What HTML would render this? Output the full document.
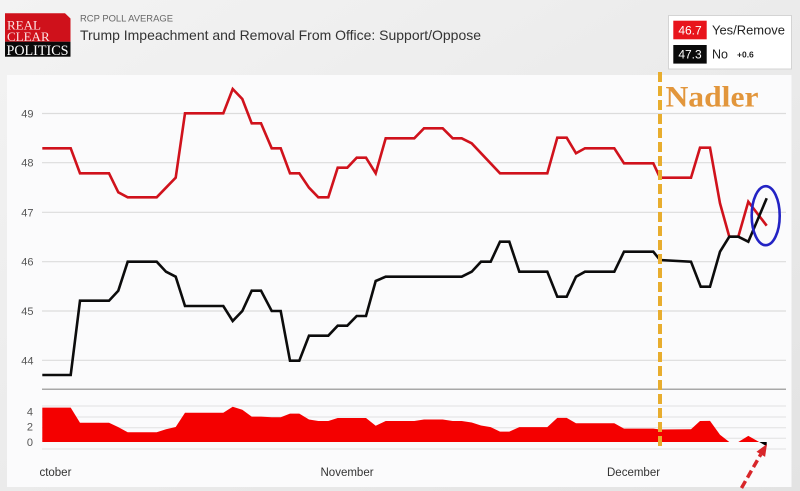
<!DOCTYPE html>
<html><head><meta charset="utf-8"><style>
html,body{margin:0;padding:0;width:800px;height:491px;overflow:hidden;background:#e4e4e4;}
svg{display:block;}
</style></head><body>
<svg width="800" height="491" viewBox="0 0 800 491" xmlns="http://www.w3.org/2000/svg">
<defs>
<linearGradient id="hdr" x1="0" y1="0" x2="1" y2="1">
<stop offset="0" stop-color="#f3f3f3"/><stop offset="1" stop-color="#e3e3e3"/>
</linearGradient>
<clipPath id="oc"><rect x="40" y="455" width="100" height="30"/></clipPath>
</defs>
<rect x="0" y="0" width="800" height="491" fill="url(#hdr)"/>
<!-- logo -->
<path d="M5 13.3 H65 L70.5 18.5 V41.7 H5 Z" fill="#cf111b"/>
<rect x="5" y="41.7" width="65.5" height="15" fill="#0a0a0a"/>
<text x="7" y="29.5" font-family="Liberation Serif, serif" font-size="13" fill="#fbe3e3">REAL</text>
<text x="7" y="40.8" font-family="Liberation Serif, serif" font-size="13" fill="#fbe3e3">CLEAR</text>
<text x="6.5" y="55" font-family="Liberation Serif, serif" font-size="14.5" fill="#ffffff" textLength="62" lengthAdjust="spacingAndGlyphs">POLITICS</text>
<!-- titles -->
<text x="80" y="21.5" font-family="Liberation Sans, sans-serif" font-size="9.2" fill="#666" textLength="93" lengthAdjust="spacingAndGlyphs">RCP POLL AVERAGE</text>
<text x="80" y="40" font-family="Liberation Sans, sans-serif" font-size="14" fill="#333" textLength="401" lengthAdjust="spacingAndGlyphs">Trump Impeachment and Removal From Office: Support/Oppose</text>
<!-- legend -->
<rect x="668.5" y="15.5" width="123" height="53.5" fill="#fff" stroke="#d4d4d4"/>
<rect x="673.3" y="20.7" width="33.4" height="18.6" fill="#e8141c"/>
<rect x="673.3" y="45" width="33.4" height="18.6" fill="#0a0a0a"/>
<text x="690" y="34.3" text-anchor="middle" font-family="Liberation Sans, sans-serif" font-size="12" fill="#fff">46.7</text>
<text x="690" y="58.6" text-anchor="middle" font-family="Liberation Sans, sans-serif" font-size="12" fill="#fff">47.3</text>
<text x="712" y="34.5" font-family="Liberation Sans, sans-serif" font-size="12.5" fill="#222" textLength="73" lengthAdjust="spacingAndGlyphs">Yes/Remove</text>
<text x="712" y="58.6" font-family="Liberation Sans, sans-serif" font-size="12.5" fill="#222">No</text>
<text x="737" y="57.5" font-family="Liberation Sans, sans-serif" font-size="8.5" font-weight="bold" fill="#222">+0.6</text>
<!-- card -->
<rect x="7" y="75" width="784.5" height="412" fill="#fbfbfc"/>
<!-- main gridlines -->
<g stroke="#dcdcdc" stroke-width="1.2">
<line x1="42" y1="113.5" x2="786" y2="113.5"/>
<line x1="42" y1="162.7" x2="786" y2="162.7"/>
<line x1="42" y1="212.3" x2="786" y2="212.3"/>
<line x1="42" y1="261.7" x2="786" y2="261.7"/>
<line x1="42" y1="311" x2="786" y2="311"/>
<line x1="42" y1="360.3" x2="786" y2="360.3"/>
</g>
<line x1="42" y1="389.3" x2="786" y2="389.3" stroke="#a8a8a8" stroke-width="1.5"/>
<g stroke="#e2e2e2" stroke-width="1">
<line x1="42" y1="406" x2="786" y2="406"/>
<line x1="42" y1="417" x2="786" y2="417"/>
<line x1="42" y1="427.7" x2="786" y2="427.7"/>
<line x1="42" y1="438.3" x2="786" y2="438.3"/>
<line x1="42" y1="449" x2="786" y2="449"/>
</g>
<!-- y labels -->
<g font-family="Liberation Sans, sans-serif" font-size="11" fill="#555" text-anchor="end">
<text x="33.5" y="117.5">49</text>
<text x="33.5" y="166.7">48</text>
<text x="33.5" y="216.3">47</text>
<text x="33.5" y="265.7">46</text>
<text x="33.5" y="315">45</text>
<text x="33.5" y="364.3">44</text>
<text x="33" y="415.5">4</text>
<text x="33" y="430.5">2</text>
<text x="33" y="446">0</text>
</g>
<!-- x labels -->
<g font-family="Liberation Sans, sans-serif" font-size="11.5" fill="#333">
<text x="30.5" y="476" clip-path="url(#oc)">October</text>
<text x="320.5" y="476">November</text>
<text x="607" y="476">December</text>
</g>
<!-- spread area -->
<path fill="#f40000" d="M42.3 442 L42.3 407.6 L70.7 407.6 L80 422.7 L109 422.7 L118.3 427.1 L127.7 432.2 L156.7 432.2 L166 429.2 L175.7 427 L185 412.7 L223.3 412.7 L232.7 406.8 L242.3 409.8 L251.7 416.6 L261 416.6 L271.7 417.3 L280.7 417.3 L290 413.6 L299.3 413.6 L309 419.5 L318.3 421 L328.3 421 L337.7 418 L347.3 418 L356.7 418 L366 418 L375.7 425.7 L385.7 421 L414.3 421 L424 419.5 L442.7 419.5 L452.7 421 L461.7 421 L471.7 422.5 L481 425.5 L490.7 427.1 L500 431.6 L509.3 431.6 L519.3 427.1 L547.3 427.1 L557.3 417.9 L566.7 417.9 L576 423.3 L585 423.3 L614.3 423.3 L624 428.6 L653.3 428.6 L660 429.5 L691 429.2 L700 421 L710 420.9 L720 434.7 L729.3 442 Z M738.3 442 L748.3 435.9 L759.2 442 Z"/>
<path fill="#000" d="M759.2 442 L766.7 446.2 L766.7 442 Z"/>
<!-- red line -->
<polyline fill="none" stroke="#d0121c" stroke-width="2.6" stroke-linejoin="miter" points="42.3,148.3 70.7,148.3 80,173.3 109,173.3 118.3,192.3 127.7,197.3 156.7,197.3 166,187.7 175.7,177.7 185,113.3 223.3,113.3 232.7,89 242.3,99 251.7,123.3 261,123.3 271.7,148.3 280.7,148.3 290,173.3 299.3,173.3 309,187.7 318.3,197.3 328.3,197.3 337.7,167.7 347.3,167.7 356.7,157.7 366,157.7 375.7,173.3 385.7,138.3 414.3,138.3 424,128.3 442.7,128.3 452.7,138.3 461.7,138.3 471.7,143.3 500,173.3 547.3,173.3 557.3,137.7 566.7,137.7 576,153.3 585,148.3 614.3,148.3 624,163.3 653.3,163.3 660,177.7 691,177.7 700,147.7 710,147.7 720,203.3 729.3,236.7 738.3,236.7 748.3,201.7 766.7,225.7"/>
<!-- black line -->
<polyline fill="none" stroke="#0c0c0c" stroke-width="2.6" points="42.3,375 70.7,375 80,300.7 109,300.7 118.3,290.7 127.7,261.7 156.7,261.7 166,271.7 175.7,276.7 185,306 223.3,306 232.7,321 242.3,311 251.7,290.7 261,290.7 271.7,311 280.7,311 290,360.7 299.3,360.7 309,335.7 328.3,335.7 337.7,325.7 347.3,325.7 356.7,316 366,316 375.7,281 385.7,276.7 461.7,276.7 471.7,271.7 481,261.7 490.7,261.7 500,241.7 509.3,241.7 519.3,271.7 547.3,271.7 557.3,296.7 566.7,296.7 576,276.7 585,271.7 614.3,271.7 624,251.7 653.3,251.7 660,260 691,261.7 700.7,286.7 710,286.7 720,251.7 729.3,236.7 738.3,236.7 748.3,241.7 766.7,198.3"/>
<!-- Nadler annotation -->
<line x1="660" y1="72" x2="660" y2="449" stroke="#e8ad2e" stroke-width="4" stroke-dasharray="10 4"/>
<text x="665.5" y="106.7" font-family="Liberation Serif, serif" font-weight="bold" font-size="30" fill="#e2963c" textLength="93" lengthAdjust="spacingAndGlyphs">Nadler</text>
<ellipse cx="765.7" cy="215.7" rx="14" ry="29.5" fill="none" stroke="#2323c4" stroke-width="2.6"/>
<!-- red arrow -->
<line x1="741.5" y1="488" x2="760.8" y2="454.3" stroke="#d8262a" stroke-width="3.5" stroke-dasharray="8 4"/>
<polygon points="767,444 765.1,456.9 756.5,451.7" fill="#d8262a"/>
</svg>
</body></html>
